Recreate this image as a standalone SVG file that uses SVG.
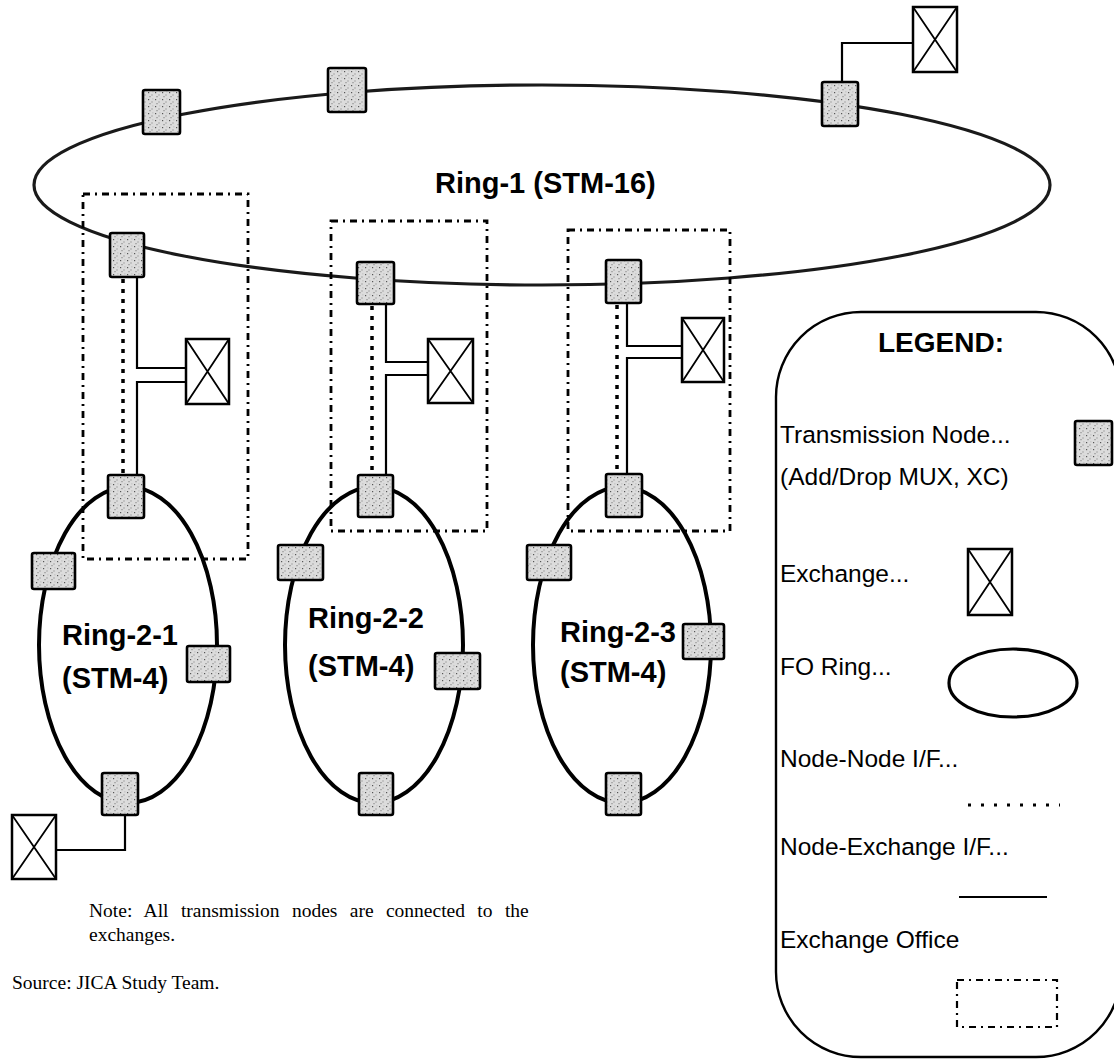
<svg xmlns="http://www.w3.org/2000/svg" width="1114" height="1060" viewBox="0 0 1114 1060">
<defs>
<pattern id="stip" patternUnits="userSpaceOnUse" width="7" height="7">
<rect width="7" height="7" fill="#dcdcdc"/>
<rect x="1" y="1" width="1.2" height="1.2" fill="#555"/>
<rect x="4.5" y="3.5" width="1" height="1" fill="#777"/>
<rect x="2.5" y="5.2" width="1" height="1" fill="#666"/>
<rect x="5.5" y="0.5" width="0.8" height="0.8" fill="#999"/>
</pattern>
<style>
.ring1{fill:none;stroke:#1a1a1a;stroke-width:3.2}
.ring2{fill:none;stroke:#000;stroke-width:4}
.tn{fill:url(#stip);stroke:#000;stroke-width:2.6}
.ex{fill:#fff;stroke:#000;stroke-width:2.5}
.exx{stroke:#000;stroke-width:1.8}
.office{fill:none;stroke:#000;stroke-width:2.8;stroke-dasharray:7 5 2 5}
.nn{fill:none;stroke:#000;stroke-width:3.5;stroke-dasharray:4 6}
.ne{fill:none;stroke:#000;stroke-width:2.2}
.lbl{font-family:"Liberation Sans",Arial,sans-serif;font-weight:bold;font-size:29px;fill:#000}
.leg{font-family:"Liberation Sans",Arial,sans-serif;font-size:24.5px;fill:#000}
.note{font-family:"Liberation Serif","Times New Roman",serif;font-size:19.5px;fill:#000}
</style>
</defs>
<rect width="1114" height="1060" fill="#fff"/>

<g id="rings">
<ellipse id="ring-1" class="ring1" cx="542" cy="185" rx="508" ry="100"/>
<ellipse id="ring-2-1" class="ring2" cx="128" cy="645" rx="89" ry="158"/>
<ellipse id="ring-2-2" class="ring2" cx="374" cy="645" rx="89" ry="158"/>
<ellipse id="ring-2-3" class="ring2" cx="622" cy="645" rx="89" ry="158"/>
</g>

<g id="exchange-offices">
<rect id="office-1" class="office" x="83" y="194" width="165" height="365"/>
<rect id="office-2" class="office" x="331" y="221" width="156" height="310"/>
<rect id="office-3" class="office" x="568" y="230" width="162" height="301"/>
</g>

<g id="connectors">
<line class="nn" x1="123" y1="279" x2="123" y2="475"/>
<polyline class="ne" points="137,277 137,368 186,368"/>
<polyline class="ne" points="186,382 137,382 137,475"/>
<line class="nn" x1="372" y1="306" x2="372" y2="475"/>
<polyline class="ne" points="386,304 386,362 428,362"/>
<polyline class="ne" points="428,375 386,375 386,475"/>
<line class="nn" x1="617" y1="305" x2="617" y2="474"/>
<polyline class="ne" points="627,303 627,346 682,346"/>
<polyline class="ne" points="682,358 627,358 627,474"/>
<polyline class="ne" points="842,82 842,43 913,43"/>
<polyline class="ne" points="125,815 125,850 56,850"/>
</g>

<g id="ring1-nodes">
<rect id="n-a" class="tn" x="143" y="90" width="37" height="44" rx="2"/>
<rect id="n-b" class="tn" x="328" y="68" width="38" height="44" rx="2"/>
<rect id="n-c" class="tn" x="822" y="82" width="36" height="44" rx="2"/>
<rect id="n-t1" class="tn" x="110" y="233" width="34" height="44" rx="2"/>
<rect id="n-t2" class="tn" x="357" y="262" width="37" height="42" rx="2"/>
<rect id="n-t3" class="tn" x="606" y="260" width="35" height="43" rx="2"/>
</g>

<g id="ring21-nodes">
<rect class="tn" x="108" y="475" width="36" height="43" rx="2"/>
<rect class="tn" x="32" y="553" width="43" height="36" rx="2"/>
<rect class="tn" x="187" y="646" width="43" height="36" rx="2"/>
<rect class="tn" x="102" y="773" width="36" height="42" rx="2"/>
</g>
<g id="ring22-nodes">
<rect class="tn" x="358" y="475" width="35" height="42" rx="2"/>
<rect class="tn" x="278" y="545" width="45" height="35" rx="2"/>
<rect class="tn" x="435" y="653" width="45" height="36" rx="2"/>
<rect class="tn" x="359" y="773" width="34" height="42" rx="2"/>
</g>
<g id="ring23-nodes">
<rect class="tn" x="606" y="474" width="36" height="43" rx="2"/>
<rect class="tn" x="527" y="545" width="44" height="35" rx="2"/>
<rect class="tn" x="683" y="624" width="41" height="35" rx="2"/>
<rect class="tn" x="606" y="773" width="35" height="42" rx="2"/>
</g>

<g id="exchanges">
<g id="ex-top"><rect class="ex" x="913" y="7" width="44" height="65"/><path class="exx" d="M913,7 L957,72 M957,7 L913,72"/></g>
<g id="ex-1"><rect class="ex" x="186" y="339" width="43" height="65"/><path class="exx" d="M186,339 L229,404 M229,339 L186,404"/></g>
<g id="ex-2"><rect class="ex" x="428" y="339" width="45" height="64"/><path class="exx" d="M428,339 L473,403 M473,339 L428,403"/></g>
<g id="ex-3"><rect class="ex" x="682" y="318" width="42" height="64"/><path class="exx" d="M682,318 L724,382 M724,318 L682,382"/></g>
<g id="ex-bl"><rect class="ex" x="12" y="815" width="44" height="64"/><path class="exx" d="M12,815 L56,879 M56,815 L12,879"/></g>
</g>

<g id="labels">
<text class="lbl" x="435" y="193">Ring-1 (STM-16)</text>
<text class="lbl" x="62" y="645">Ring-2-1</text>
<text class="lbl" x="62" y="688">(STM-4)</text>
<text class="lbl" x="308" y="628">Ring-2-2</text>
<text class="lbl" x="308" y="676">(STM-4)</text>
<text class="lbl" x="560" y="642">Ring-2-3</text>
<text class="lbl" x="560" y="682">(STM-4)</text>
</g>

<g id="legend">
<rect x="776" y="312" width="345" height="745" rx="85" ry="85" fill="none" stroke="#000" stroke-width="2.4"/>
<text x="878" y="352" style="font-family:'Liberation Sans',Arial,sans-serif;font-weight:bold;font-size:28px">LEGEND:</text>
<text class="leg" x="780" y="443">Transmission Node...</text>
<text class="leg" x="780" y="485">(Add/Drop MUX, XC)</text>
<rect class="tn" x="1075" y="421" width="37" height="44" rx="2"/>
<text class="leg" x="780" y="582">Exchange...</text>
<rect class="ex" x="968" y="549" width="44" height="66"/><path class="exx" d="M968,549 L1012,615 M1012,549 L968,615"/>
<text class="leg" x="780" y="675">FO Ring...</text>
<ellipse cx="1013" cy="683" rx="64" ry="34" fill="none" stroke="#000" stroke-width="3.2"/>
<text class="leg" x="780" y="767">Node-Node I/F...</text>
<line class="nn" x1="968" y1="805" x2="1060" y2="805" style="stroke-width:3;stroke-dasharray:3 10"/>
<text class="leg" x="780" y="855">Node-Exchange I/F...</text>
<line class="ne" x1="959" y1="897" x2="1047" y2="897"/>
<text class="leg" x="780" y="948">Exchange Office</text>
<rect class="office" x="957" y="980" width="100" height="47" style="stroke-width:2.2"/>
</g>

<g id="notes">
<text class="note" x="89" y="917" word-spacing="7.5">Note: All transmission nodes are connected to the</text>
<text class="note" x="89" y="941">exchanges.</text>
<text class="note" x="12" y="989">Source: JICA Study Team.</text>
</g>
</svg>
